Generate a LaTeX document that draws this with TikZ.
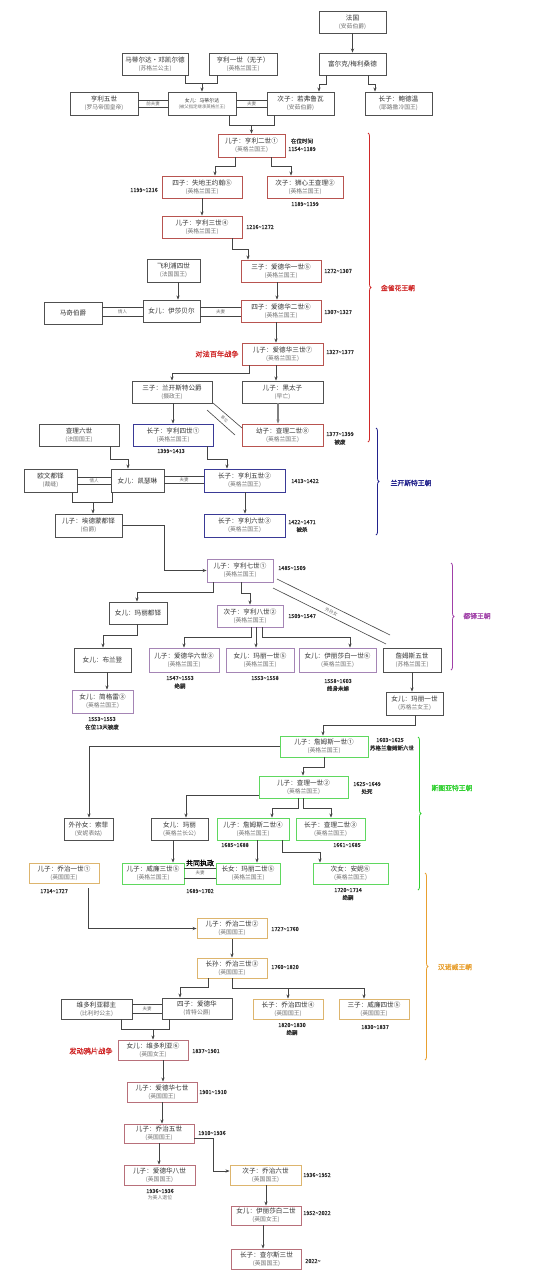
\documentclass[tikz,border=0pt]{standalone}
\usepackage{fontspec}
\setmainfont{Noto Sans CJK SC}[AutoFakeBold=1.5]
\usetikzlibrary{arrows.meta,decorations.pathreplacing}
\definecolor{kred}{HTML}{B85450}
\definecolor{knavy}{HTML}{3A3A96}
\definecolor{kpurple}{HTML}{A585B5}
\definecolor{kgreen}{HTML}{5FD85F}
\definecolor{korange}{HTML}{DDB56E}
\definecolor{kpink}{HTML}{B8707A}
\definecolor{dgray}{HTML}{505050}
\definecolor{lred}{HTML}{D02828}
\definecolor{lnavy}{HTML}{22228C}
\definecolor{lpurple}{HTML}{A040A8}
\definecolor{lgreen}{HTML}{30D030}
\definecolor{lorange}{HTML}{E8A030}
\definecolor{maintxt}{HTML}{333333}
\definecolor{subg}{HTML}{707070}
\definecolor{lineg}{HTML}{444444}
\newcommand\two[2]{#1\\{\fontsize{5.8}{7}\selectfont\color{subg}(#2)}}
\newcommand\kbox[7]{\node[box=#2,minimum width=#5pt,minimum height=#6pt] (#1) at (#3,#4) {#7};}
\newcommand\dtl[3]{\node[dt] at (#1,#2) {#3};}
\newcommand\tld{\textasciitilde}
\newcommand\dbl[5]{%
  \draw[ln,line width=0.6pt] (#1.east |- 0,#3) -- (#2.west |- 0,#3);
  \draw[ln,line width=0.6pt] (#1.east |- 0,#4) -- (#2.west |- 0,#4);
  \path (#1.east |- 0,#3) -- (#2.west |- 0,#4) node[midway,lab] {#5};}
\begin{document}
\begin{tikzpicture}[x=1pt,y=-1pt,
  box/.style={draw=#1, line width=0.9pt, fill=white, inner sep=0.5pt, align=center, text=maintxt, font=\fontsize{6.6}{7.6}\selectfont},
  dt/.style={inner sep=0pt, align=center, text=maintxt, font=\bfseries\fontsize{5.5}{6.5}\selectfont},
  lab/.style={inner sep=0pt, text=subg, font=\fontsize{4.5}{5}\selectfont},
  ln/.style={draw=lineg, line width=0.7pt},
  arr/.style={ln, -{Stealth[length=4pt,width=3.2pt]}},
  dyn/.style={inner sep=0pt, font=\bfseries\fontsize{6.8}{8}\selectfont},
  brc/.style={decorate, decoration={brace, amplitude=3pt}, line width=0.8pt},
  war/.style={inner sep=0pt, text=lred, font=\bfseries\fontsize{7.2}{8}\selectfont}]
\useasboundingbox (0,0) rectangle (550,1280);
\fill[white] (0,0) rectangle (550,1280);

% ---------- nodes ----------
\kbox{fr}{dgray}{352.5}{22}{67}{22}{\two{法国}{安茹伯爵}}
\kbox{fulk}{dgray}{352.5}{64}{67}{22}{富尔克/梅利桑德}
\kbox{mdk}{dgray}{155}{64}{66}{22}{\two{马蒂尔达·邓凯尔德}{苏格兰公主}}
\kbox{hone}{dgray}{243}{64}{68}{22}{\two{亨利一世（无子）}{英格兰国王}}
\kbox{hfive}{dgray}{104}{103.5}{68}{23}{\two{亨利五世}{罗马帝国皇帝}}
\node[box=dgray,minimum width=68pt,minimum height=23pt,font=\fontsize{4.9}{6.2}\selectfont] (mat) at (202,103.5) {女儿：马蒂尔达\\{\fontsize{4.4}{5}\selectfont\color{subg}(被父指定继承英格兰王)}};
\kbox{geof}{dgray}{300.5}{103.5}{67}{23}{\two{次子：若弗鲁瓦}{安茹伯爵}}
\kbox{bald}{dgray}{398.5}{103.5}{67}{23}{\two{长子：鲍德温}{耶路撒冷国王}}
\kbox{htwo}{kred}{251.5}{145.5}{67}{23}{\two{儿子：亨利二世①}{英格兰国王}}
\kbox{john}{kred}{202}{187}{80}{22}{\two{四子：失地王约翰⑤}{英格兰国王}}
\kbox{rich}{kred}{305}{187}{76}{22}{\two{次子：狮心王查理②}{英格兰国王}}
\kbox{hthree}{kred}{202}{227}{80}{22}{\two{儿子：亨利三世④}{英格兰国王}}
\kbox{eone}{kred}{281}{271}{80}{22}{\two{三子：爱德华一世⑤}{英格兰国王}}
\kbox{phil}{dgray}{173.5}{270.5}{53}{23}{\two{飞利浦四世}{法国国王}}
\kbox{march}{dgray}{73}{313}{58}{22}{马奇伯爵}
\kbox{isa}{dgray}{171.5}{311}{57}{22}{女儿：伊莎贝尔}
\kbox{etwo}{kred}{281}{311}{80}{22}{\two{四子：爱德华二世⑥}{英格兰国王}}
\kbox{ethree}{kred}{282.5}{354}{81}{22}{\two{儿子：爱德华三世⑦}{英格兰国王}}
\kbox{lanc}{dgray}{172}{392}{80}{22}{\two{三子：兰开斯特公爵}{摄政王}}
\kbox{bp}{dgray}{282.5}{392}{81}{22}{\two{儿子：黑太子}{早亡}}
\kbox{csix}{dgray}{79}{435}{80}{22}{\two{查理六世}{法国国王}}
\kbox{hfour}{knavy}{173}{435}{80}{22}{\two{长子：亨利四世①}{英格兰国王}}
\kbox{rtwo}{kred}{282.5}{435}{81}{22}{\two{幼子：查理二世⑧}{英格兰国王}}
\kbox{owen}{dgray}{50.5}{480.5}{53}{23}{\two{欧文都铎}{裁缝}}
\kbox{cath}{dgray}{137.5}{480.5}{53}{23}{女儿：凯瑟琳}
\kbox{hfivee}{knavy}{244.5}{480.5}{81}{23}{\two{长子：亨利五世②}{英格兰国王}}
\kbox{edm}{dgray}{88.5}{525.5}{67}{23}{\two{儿子：埃德蒙都铎}{伯爵}}
\kbox{hsix}{knavy}{244.5}{525.5}{81}{23}{\two{长子：亨利六世③}{英格兰国王}}
\kbox{hseven}{kpurple}{240}{570.5}{66}{23}{\two{儿子：亨利七世①}{英格兰国王}}
\kbox{mtud}{dgray}{138}{613}{58}{22}{女儿：玛丽都铎}
\kbox{height}{kpurple}{250}{616}{66}{22}{\two{次子：亨利八世②}{英格兰国王}}
\kbox{bran}{dgray}{102.5}{660}{57}{24}{女儿：布兰登}
\kbox{esix}{kpurple}{184}{660}{70}{24}{\two{儿子：爱德华六世③}{英格兰国王}}
\kbox{mone}{kpurple}{260}{660}{68}{24}{\two{女儿：玛丽一世⑤}{英格兰国王}}
\kbox{elone}{kpurple}{337.5}{660}{77}{24}{\two{女儿：伊丽莎白一世⑥}{英格兰国王}}
\kbox{jfive}{dgray}{412}{660}{58}{24}{\two{詹姆斯五世}{苏格兰国王}}
\kbox{jane}{kpurple}{102.5}{701.5}{61}{23}{\two{女儿：简格雷③}{英格兰国王}}
\kbox{mqs}{dgray}{414.5}{703.5}{57}{23}{\two{女儿：玛丽一世}{苏格兰女王}}
\kbox{jone}{kgreen}{324}{746.5}{88}{21}{\two{儿子：詹姆斯一世①}{英格兰国王}}
\kbox{cone}{kgreen}{303.5}{787}{89}{22}{\two{儿子：查理一世②}{英格兰国王}}
\kbox{soph}{dgray}{88.5}{829}{49}{22}{\two{外孙女：索菲}{安妮表姑}}
\kbox{mary}{dgray}{179.5}{829}{57}{22}{\two{女儿：玛丽}{英格兰长公}}
\kbox{jtwo}{kgreen}{253}{829}{72}{22}{\two{儿子：詹姆斯二世④}{英格兰国王}}
\kbox{ctwo}{kgreen}{330.5}{829}{69}{22}{\two{长子：查理二世③}{英格兰国王}}
\kbox{gone}{korange}{64}{873}{70}{20}{\two{儿子：乔治一世①}{英国国王}}
\kbox{wthree}{kgreen}{153}{873.5}{62}{21}{\two{儿子：威廉三世⑤}{英格兰国王}}
\kbox{mtwo}{kgreen}{248}{873.5}{64}{21}{\two{长女：玛丽二世⑤}{英格兰国王}}
\kbox{anne}{kgreen}{350.5}{873.5}{75}{21}{\two{次女：安妮⑥}{英格兰国王}}
\kbox{gtwo}{korange}{232}{928.5}{70}{20}{\two{儿子：乔治二世②}{英国国王}}
\kbox{gthree}{korange}{232}{968}{70}{20}{\two{长孙：乔治三世③}{英国国王}}
\kbox{vicm}{dgray}{96.5}{1009}{71}{20}{\two{维多利亚郡主}{比利时公主}}
\kbox{edk}{dgray}{197}{1008.5}{70}{21}{\two{四子：爱德华}{肯特公爵}}
\kbox{gfour}{korange}{288}{1009}{70}{20}{\two{长子：乔治四世④}{英国国王}}
\kbox{wfour}{korange}{374}{1009}{70}{20}{\two{三子：威廉四世⑤}{英国国王}}
\kbox{vic}{kpink}{153}{1050}{70}{20}{\two{女儿：维多利亚⑥}{英国女王}}
\kbox{eseven}{kpink}{162}{1092}{70}{20}{\two{儿子：爱德华七世}{英国国王}}
\kbox{gfive}{kpink}{159}{1133.5}{70}{19}{\two{儿子：乔治五世}{英国国王}}
\kbox{eeight}{kpink}{159.5}{1175}{71}{20}{\two{儿子：爱德华八世}{英国国王}}
\kbox{gsix}{korange}{265.5}{1175}{71}{20}{\two{次子：乔治六世}{英国国王}}
\kbox{eltwo}{kpink}{266}{1215.5}{70}{19}{\two{女儿：伊丽莎白二世}{英国女王}}
\kbox{chthree}{kpink}{266.5}{1259}{70}{20}{\two{长子：查尔斯三世}{英国国王}}

% ---------- connectors ----------
\draw[arr] (fr) -- (fulk);
\draw[arr] (fulk.south -| 326,0) |- (319,84) -- (geof.north -| 319,0);
\draw[arr] (fulk.south -| 368,0) |- (375,84) -- (bald.north -| 375,0);
\draw[ln] (mdk.south -| 185,0) -- (185,83) -- (217,83) -- (hone.south -| 217,0);
\coordinate (jm) at (202,83);
\draw[arr] (jm) -- (mat.north -| 202,0);
\dbl{hfive}{mat}{100}{107}{前夫妻}
\dbl{mat}{geof}{100}{107}{夫妻}
\draw[ln] (mat.south -| 229,0) -- (229,125) -- (274,125) -- (geof.south -| 274,0);
\coordinate (jh) at (251.5,125);
\draw[arr] (jh) -- (htwo.north -| 251.5,0);
\draw[arr] (htwo.south -| 235,0) |- (215,166) -- (john.north -| 215,0);
\draw[arr] (htwo.south -| 271,0) |- (291,166) -- (rich.north -| 291,0);
\draw[arr] (john) -- (hthree);
\draw[arr] (hthree.south -| 232,0) |- (248,249) -- (eone.north -| 248,0);
\draw[arr] (phil.south -| 178,0) -- (isa.north -| 178,0);
\draw[arr] (eone.south -| 277,0) -- (etwo.north -| 277,0);
\dbl{march}{isa}{307}{316}{情人}
\dbl{isa}{etwo}{307}{316}{夫妻}
\draw[arr] (etwo.south -| 276,0) -- (ethree.north -| 276,0);
\draw[arr] (ethree.south -| 249,0) |- (172,373) -- (lanc.north -| 172,0);
\draw[arr] (ethree.south -| 276,0) -- (bp.north -| 276,0);
\draw[arr] (lanc.south -| 173,0) -- (hfour.north -| 173,0);
\draw[arr, draw=gray, line width=1.1pt] (bp.south -| 278,0) -- (rtwo.north -| 278,0);
\draw[ln, line width=0.6pt] (213,403) -- (242,428);
\draw[ln, line width=0.6pt] (207,410) -- (235,435);
\node[lab, rotate=-41, font=\fontsize{3.8}{4}\selectfont] at (224.5,419) {篡位};
\draw[arr] (csix.south -| 110,0) |- (128,459) -- (cath.north -| 128,0);
\draw[arr] (hfour.south -| 207,0) |- (227,459) -- (hfivee.north -| 227,0);
\dbl{owen}{cath}{477}{484}{情人}
\dbl{cath}{hfivee}{476}{483}{夫妻}
\draw[ln] (owen.south -| 72,0) -- (72,502) -- (112,502) -- (cath.south -| 112,0);
\coordinate (je) at (93,502);
\draw[arr] (je) -- (edm.north -| 93,0);
\draw[arr] (hfivee.south -| 245,0) -- (hsix.north -| 245,0);
\draw[arr] (edm.east) -- (164,525.5) |- (hseven.west);
\draw[arr] (hseven.south -| 213,0) |- (137,592) -- (mtud.north -| 137,0);
\draw[arr] (hseven.south -| 241,0) |- (250,593) -- (height.north -| 250,0);
\draw[ln, line width=0.6pt] (277,579) -- (390,635);
\draw[ln, line width=0.6pt] (273,588) -- (386,644);
\node[lab, rotate=-26.5] at (331.5,611.5) {外孙女};
\draw[arr] (mtud.south -| 137,0) |- (103,635) -- (bran.north -| 103,0);
\draw[arr] (height.south -| 251,0) |- (184,637) -- (esix.north -| 184,0);
\draw[arr] (height.south -| 256,0) -- (mone.north -| 256,0);
\draw[arr] (height.south -| 262,0) |- (350,637) -- (elone.north -| 350,0);
\draw[arr] (bran.south -| 107,0) -- (jane.north -| 107,0);
\draw[arr] (jfive.south -| 412,0) -- (mqs.north -| 412,0);
\draw[arr] (mqs.south -| 415,0) |- (323,725) -- (jone.north -| 323,0);
\draw[arr] (jone.west) -| (soph.north -| 89,0);
\draw[arr] (jone.south -| 324,0) |- (303,767) -- (cone.north -| 303,0);
\draw[arr] (cone.west |- 0,795) -| (mary.north -| 186,0);
\draw[arr] (cone.south -| 298,0) |- (272,808) -- (jtwo.north -| 272,0);
\draw[arr] (cone.south -| 303,0) |- (331,808) -- (ctwo.north -| 331,0);
\draw[arr] (mary.south -| 173,0) -- (wthree.north -| 173,0);
\draw[arr] (jtwo.south -| 257,0) -- (mtwo.north -| 257,0);
\draw[arr] (jtwo.south -| 282,0) |- (320,852) -- (anne.north -| 320,0);
\dbl{wthree}{mtwo}{868}{878}{夫妻}
\draw[arr] ([yshift=-5pt]gone.south -| 88,0) |- (gtwo.west);
\draw[arr] (gtwo) -- (gthree);
\draw[arr] (gthree.south -| 208,0) |- (180,987) -- (edk.north -| 180,0);
\draw[arr] (gthree.south -| 232,0) |- (364,988) -- (wfour.north -| 364,0);
\coordinate (jg) at (288,988);
\draw[arr] (jg) -- (gfour.north -| 288,0);
\dbl{vicm}{edk}{1004}{1013}{夫妻}
\draw[ln] (vicm.south -| 121,0) -- (121,1029) -- (169,1029) -- (edk.south -| 169,0);
\coordinate (jv) at (153,1029);
\draw[arr] (jv) -- (vic.north -| 153,0);
\draw[arr] (vic.south -| 163,0) -- (eseven.north -| 163,0);
\draw[arr] (eseven.south -| 162,0) -- (gfive.north -| 162,0);
\draw[arr] (gfive.east |- 0,1138) -- (213,1138) |- (gsix.west |- 0,1171);
\draw[arr] (gfive.south -| 159,0) -- (eeight.north -| 159,0);
\draw[arr] (gsix.south -| 266,0) -- (eltwo.north -| 266,0);
\draw[arr] (eltwo.south -| 263,0) -- (chthree.north -| 263,0);

% ---------- dates and notes ----------
\dtl{302}{141}{在位时间}
\dtl{302}{149}{1154\tld1189}
\dtl{144}{190}{1199\tld1216}
\dtl{305}{204}{1189\tld1199}
\dtl{260}{227}{1216\tld1272}
\dtl{338}{271}{1272\tld1307}
\dtl{338}{312}{1307\tld1327}
\dtl{340}{352}{1327\tld1377}
\node[war] at (217,354) {对法百年战争};
\dtl{171}{451}{1399\tld1413}
\dtl{340}{434}{1377\tld1399}
\dtl{340}{442}{被废}
\dtl{305}{481}{1413\tld1422}
\dtl{302}{522}{1422\tld1471}
\dtl{302}{529.5}{被杀}
\dtl{292}{568}{1485\tld1509}
\dtl{302}{616}{1509\tld1547}
\dtl{180}{678}{1547\tld1553}
\dtl{180}{686}{绝嗣}
\dtl{265}{678}{1553\tld1558}
\dtl{338}{681}{1558\tld1603}
\dtl{338}{688.5}{终身未嫁}
\dtl{102}{719}{1553\tld1553}
\dtl{102}{727}{在位13天被废}
\dtl{390}{740}{1603\tld1625}
\dtl{392}{748}{苏格兰詹姆斯六世}
\dtl{367}{784}{1625\tld1649}
\dtl{367}{791.5}{处死}
\dtl{235}{845}{1685\tld1688}
\dtl{347}{845}{1661\tld1685}
\dtl{54}{891}{1714\tld1727}
\dtl{200}{891}{1689\tld1702}
\dtl{348}{890}{1720\tld1714}
\dtl{348}{897.5}{绝嗣}
\node[inner sep=0pt, text=black, font=\bfseries\fontsize{7}{8}\selectfont] at (200,863) {共同执政};
\dtl{285}{929}{1727\tld1760}
\dtl{285}{967}{1760\tld1820}
\dtl{292}{1025}{1820\tld1830}
\dtl{292}{1032.5}{绝嗣}
\dtl{375}{1027}{1830\tld1837}
\dtl{206}{1051}{1837\tld1901}
\node[war] at (91,1051) {发动鸦片战争};
\dtl{213}{1092}{1901\tld1910}
\dtl{212}{1133}{1910\tld1936}
\dtl{160}{1191}{1936\tld1936}
\node[lab, font=\fontsize{4.9}{5}\selectfont] at (160,1198) {为美人退位};
\dtl{317}{1175}{1936\tld1952}
\dtl{317}{1213}{1952\tld2022}
\dtl{313}{1261}{2022\tld}

% ---------- dynasty braces ----------
\draw[brc, draw=lred] (368,133) -- (368,442);
\node[dyn, text=lred] at (398,288) {金雀花王朝};
\draw[brc, draw=lnavy] (376,428) -- (376,535);
\node[dyn, text=lnavy] at (411,483) {兰开斯特王朝};
\draw[brc, draw=lpurple] (451,563) -- (451,670);
\node[dyn, text=lpurple] at (477,616) {都铎王朝};
\draw[brc, draw=lgreen] (418,737) -- (418,890);
\node[dyn, text=lgreen] at (452,788) {斯图亚特王朝};
\draw[brc, draw=lorange] (425,873) -- (425,1060);
\node[dyn, text=lorange] at (455,967) {汉诺威王朝};
\end{tikzpicture}
\end{document}
